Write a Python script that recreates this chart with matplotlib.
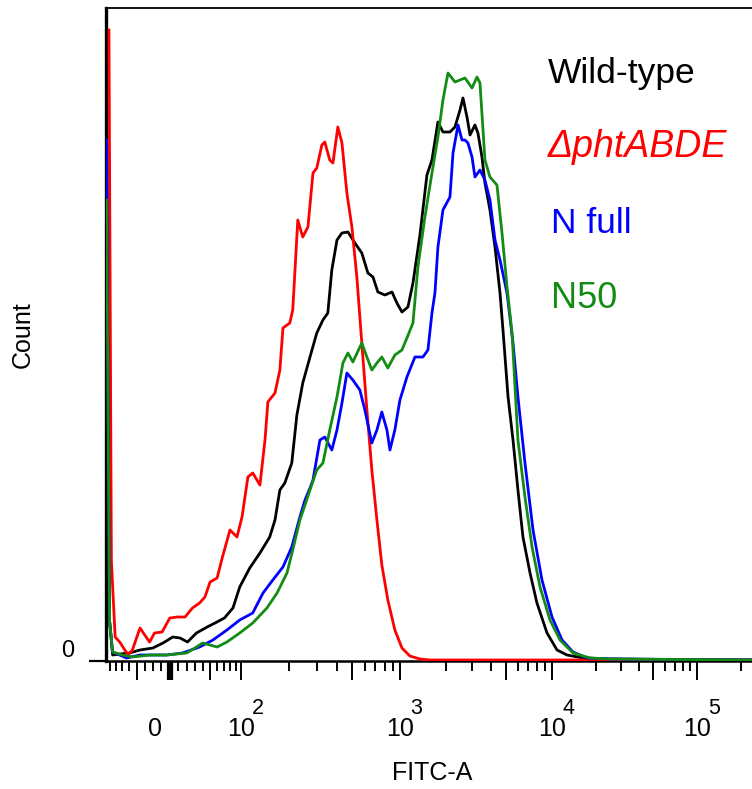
import numpy as np
import matplotlib
matplotlib.use("Agg")
import matplotlib.pyplot as plt

# ---------------------------------------------------------------------------
# Histogram data: (FITC-A intensity, count) for each strain
# ---------------------------------------------------------------------------
WILD_TYPE = [
    (-86, 653), (-80, 40), (-75, 6), (-64, 7), (-50, 8), (-36, 11), (-20, 13),
    (-8, 18), (3.5, 24), (12, 23), (21, 19), (32, 28), (46, 34), (57, 38),
    (71, 43), (85, 53), (97, 74), (113, 93), (131, 108), (151, 124), (163, 141),
    (175, 171), (188, 178), (208, 198), (224, 246), (244, 278), (271, 304),
    (299, 328), (327, 341), (351, 348), (372, 391), (401, 421), (431, 428),
    (470, 429), (520, 418), (575, 408), (628, 388), (676, 384), (726, 369),
    (804, 366), (891, 369), (957, 358), (1031, 349), (1129, 354), (1218, 378),
    (1354, 426), (1505, 486), (1624, 501), (1778, 539), (1918, 529), (2133, 529),
    (2301, 534), (2483, 551), (2597, 563), (2760, 544), (2890, 526), (3114, 536),
    (3258, 528), (3462, 504), (3622, 478), (3908, 451), (4217, 414), (4550, 368),
    (4760, 331), (5140, 264), (5540, 221), (5970, 171), (6440, 124), (7170, 88),
    (7960, 58), (9270, 28), (10830, 11), (12680, 6), (16360, 3), (22480, 2),
    (239000, 1),
]

DELTA_PHT = [
    (-81, 631), (-77, 100), (-71, 24), (-64, 19), (-52, 6), (-46, 11), (-36, 33),
    (-30, 26), (-24, 19), (-18, 28), (-9, 29), (0, 43), (9, 44), (18, 44),
    (27, 53), (36, 58), (43, 64), (50, 79), (60, 83), (68, 104), (80, 131),
    (92, 124), (101, 144), (110, 184), (118, 188), (131, 176), (141, 221),
    (147, 259), (163, 268), (175, 291), (183, 333), (202, 338), (211, 351),
    (227, 441), (244, 424), (263, 434), (283, 488), (299, 493), (322, 516),
    (336, 519), (361, 501), (378, 498), (406, 534), (431, 518), (463, 468),
    (498, 434), (535, 384), (575, 318), (619, 251), (665, 191), (716, 141),
    (769, 96), (839, 61), (929, 31), (1031, 13), (1163, 5), (1354, 2),
    (1575, 1), (239000, 1),
]

N_FULL = [
    (-85, 521), (-80, 40), (-75, 9), (-54, 3), (-36, 6), (-3.5, 6), (15, 8),
    (36, 14), (54, 21), (75, 31), (97, 41), (118, 48), (137, 68), (158, 81),
    (183, 94), (208, 114), (234, 144), (252, 161), (271, 173), (283, 181),
    (313, 221), (336, 224), (372, 211), (401, 231), (431, 258), (463, 288),
    (505, 281), (559, 271), (601, 251), (665, 218), (716, 231), (769, 249),
    (828, 231), (865, 211), (929, 231), (1000, 261), (1112, 284), (1255, 304),
    (1416, 304), (1528, 311), (1624, 348), (1699, 368), (1778, 414), (1918, 451),
    (2133, 464), (2234, 508), (2410, 536), (2559, 521), (2678, 521), (2800, 518),
    (2978, 504), (3114, 484), (3360, 491), (3622, 481), (3908, 461), (4217, 421),
    (4550, 401), (5060, 368), (5540, 318), (5970, 264), (6640, 198), (7500, 131),
    (8590, 81), (10000, 44), (11720, 21), (13960, 9), (17420, 3), (25120, 2),
    (239000, 1),
]

N50 = [
    (-85, 461), (-80, 40), (-75, 9), (-60, 6), (-46, 4), (-24, 6), (-3.5, 6),
    (20, 8), (30, 13), (40, 18), (50, 16), (60, 14), (75, 19), (97, 28),
    (118, 38), (145, 53), (168, 68), (194, 88), (211, 111), (234, 141),
    (252, 156), (271, 171), (299, 191), (327, 198), (361, 231), (401, 264),
    (437, 298), (470, 308), (505, 299), (575, 318), (619, 304), (665, 291),
    (716, 298), (769, 304), (839, 293), (929, 306), (1031, 311), (1112, 323),
    (1218, 338), (1313, 394), (1460, 444), (1624, 488), (1778, 524), (1918, 561),
    (2070, 588), (2301, 579), (2678, 583), (2978, 573), (3212, 584), (3360, 578),
    (3622, 501), (3908, 484), (4345, 476), (4690, 428), (5060, 374), (5460, 328),
    (5970, 221), (6640, 164), (7390, 114), (8340, 74), (9700, 41), (11350, 21),
    (13960, 8), (18280, 3), (25120, 2), (239000, 1),
]

LABELS = ["Wild-type", "\u0394phtABDE", "N full", "N50"]
COLORS = ["#000000", "#ff0000", "#0000ff", "#128c12"]
DECADES = [100, 1000, 10000, 100000]
DECADE_EXP = ["2", "3", "4", "5"]

# ---------------------------------------------------------------------------
# Biexponential-style axis: linear around zero, logarithmic above 100
# ---------------------------------------------------------------------------
W = 80.0
T100 = np.arcsinh(100.0 / W)


def _t(v):
    v = np.asarray(v, dtype=float)
    lo = np.arcsinh(np.minimum(v, 100.0) / W)
    hi = T100 + np.log(np.maximum(v, 100.0) / 100.0)
    return np.where(v < 100.0, lo, hi)


def _t_inv(t):
    t = np.asarray(t, dtype=float)
    lo = W * np.sinh(np.minimum(t, T100))
    hi = 100.0 * np.exp(np.maximum(t, T100) - T100)
    return np.where(t < T100, lo, hi)


ANCHOR_T = _t([-300, 0, 100, 1e3, 1e4, 1e5, 1e6])
ANCHOR_POS = [31.2, 170.0, 241.5, 400.0, 552.0, 697.0, 842.0]


def forward(v):
    return np.interp(_t(v), ANCHOR_T, ANCHOR_POS)


def inverse(p):
    return _t_inv(np.interp(p, ANCHOR_POS, ANCHOR_T))


plt.rcParams["font.family"] = ["Liberation Sans", "DejaVu Sans"]

fig = plt.figure(figsize=(7.52, 7.89), dpi=100)
ax = fig.add_axes([106 / 752, 1 - 661 / 789, 646 / 752, 653 / 789])
ax.set_xscale("function", functions=(forward, inverse))
ax.set_xlim(-86, 239000)
ax.set_ylim(0, 653)

series = [WILD_TYPE, DELTA_PHT, N_FULL, N50]
for data, col in zip(series, COLORS):
    xs, ys = zip(*data)
    ax.plot(xs, ys, color=col, lw=2.0, zorder=3, solid_joinstyle="round")

# spines
ax.spines["right"].set_visible(False)
ax.spines["left"].set_linewidth(2.4)
ax.spines["bottom"].set_linewidth(1.8)
ax.spines["top"].set_linewidth(1.3)

# x ticks
long_ticks = [-40, 0, 50, 100, 500, 1000, 5000, 10000, 50000, 100000]
short_ticks = [-80, -70, -60, -50, -30, -20, -10, 10, 20, 30, 40, 60, 70, 80, 90]
for dec in (100, 1000, 10000, 100000):
    for m in range(2, 10):
        if m != 5 and dec * m < 239000:
            short_ticks.append(dec * m)
ax.set_xticks(long_ticks)
ax.set_xticks(short_ticks, minor=True)
ax.xaxis.set_major_formatter(matplotlib.ticker.NullFormatter())
ax.xaxis.set_minor_formatter(matplotlib.ticker.NullFormatter())
ax.tick_params(axis="x", which="major", length=13.5, width=1.4, direction="out")
ax.tick_params(axis="x", which="minor", length=7.5, width=1.4, direction="out")
zero_tick = ax.xaxis.get_major_ticks()[long_ticks.index(0)]
zero_tick.tick1line.set_markeredgewidth(4.5)

ax.set_yticks([0])
ax.yaxis.set_major_formatter(matplotlib.ticker.NullFormatter())
ax.tick_params(axis="y", which="major", length=12.5, width=1.6, direction="out")

# tick labels
lab_size = 18
ax.annotate("0", xy=(0, 0), xycoords=("data", "axes fraction"),
            xytext=(-10.8, -48.6), textcoords="offset points",
            ha="center", va="center", fontsize=lab_size)
for dec, e in zip(DECADES, DECADE_EXP):
    ax.annotate("10", xy=(dec, 0), xycoords=("data", "axes fraction"),
                xytext=(0, -48.6), textcoords="offset points",
                ha="center", va="center", fontsize=lab_size)
    ax.annotate(e, xy=(dec, 0), xycoords=("data", "axes fraction"),
                xytext=(12.0, -34.0), textcoords="offset points",
                ha="center", va="center", fontsize=15.5)

fig.text(68 / 752, 1 - 651 / 789, "0", ha="center", va="center", fontsize=17)
fig.text(23 / 752, 1 - 335 / 789, "Count", ha="center", va="center",
         rotation=90, fontsize=lab_size)
fig.text(432 / 752, 1 - 773 / 789, "FITC-A", ha="center", va="center",
         fontsize=lab_size)

# strain labels
leg_pos = [(548, 83), (548, 157), (551, 233), (551, 308)]
leg_size = [25.5, 27, 25.5, 26]
for (lx, ly), lab, col, fs in zip(leg_pos, LABELS, COLORS, leg_size):
    style = "italic" if lab.startswith("\u0394") else "normal"
    fig.text(lx / 752, 1 - ly / 789, lab, color=col, fontsize=fs,
             fontstyle=style, ha="left", va="baseline")

fig.savefig("out.png", dpi=100)
